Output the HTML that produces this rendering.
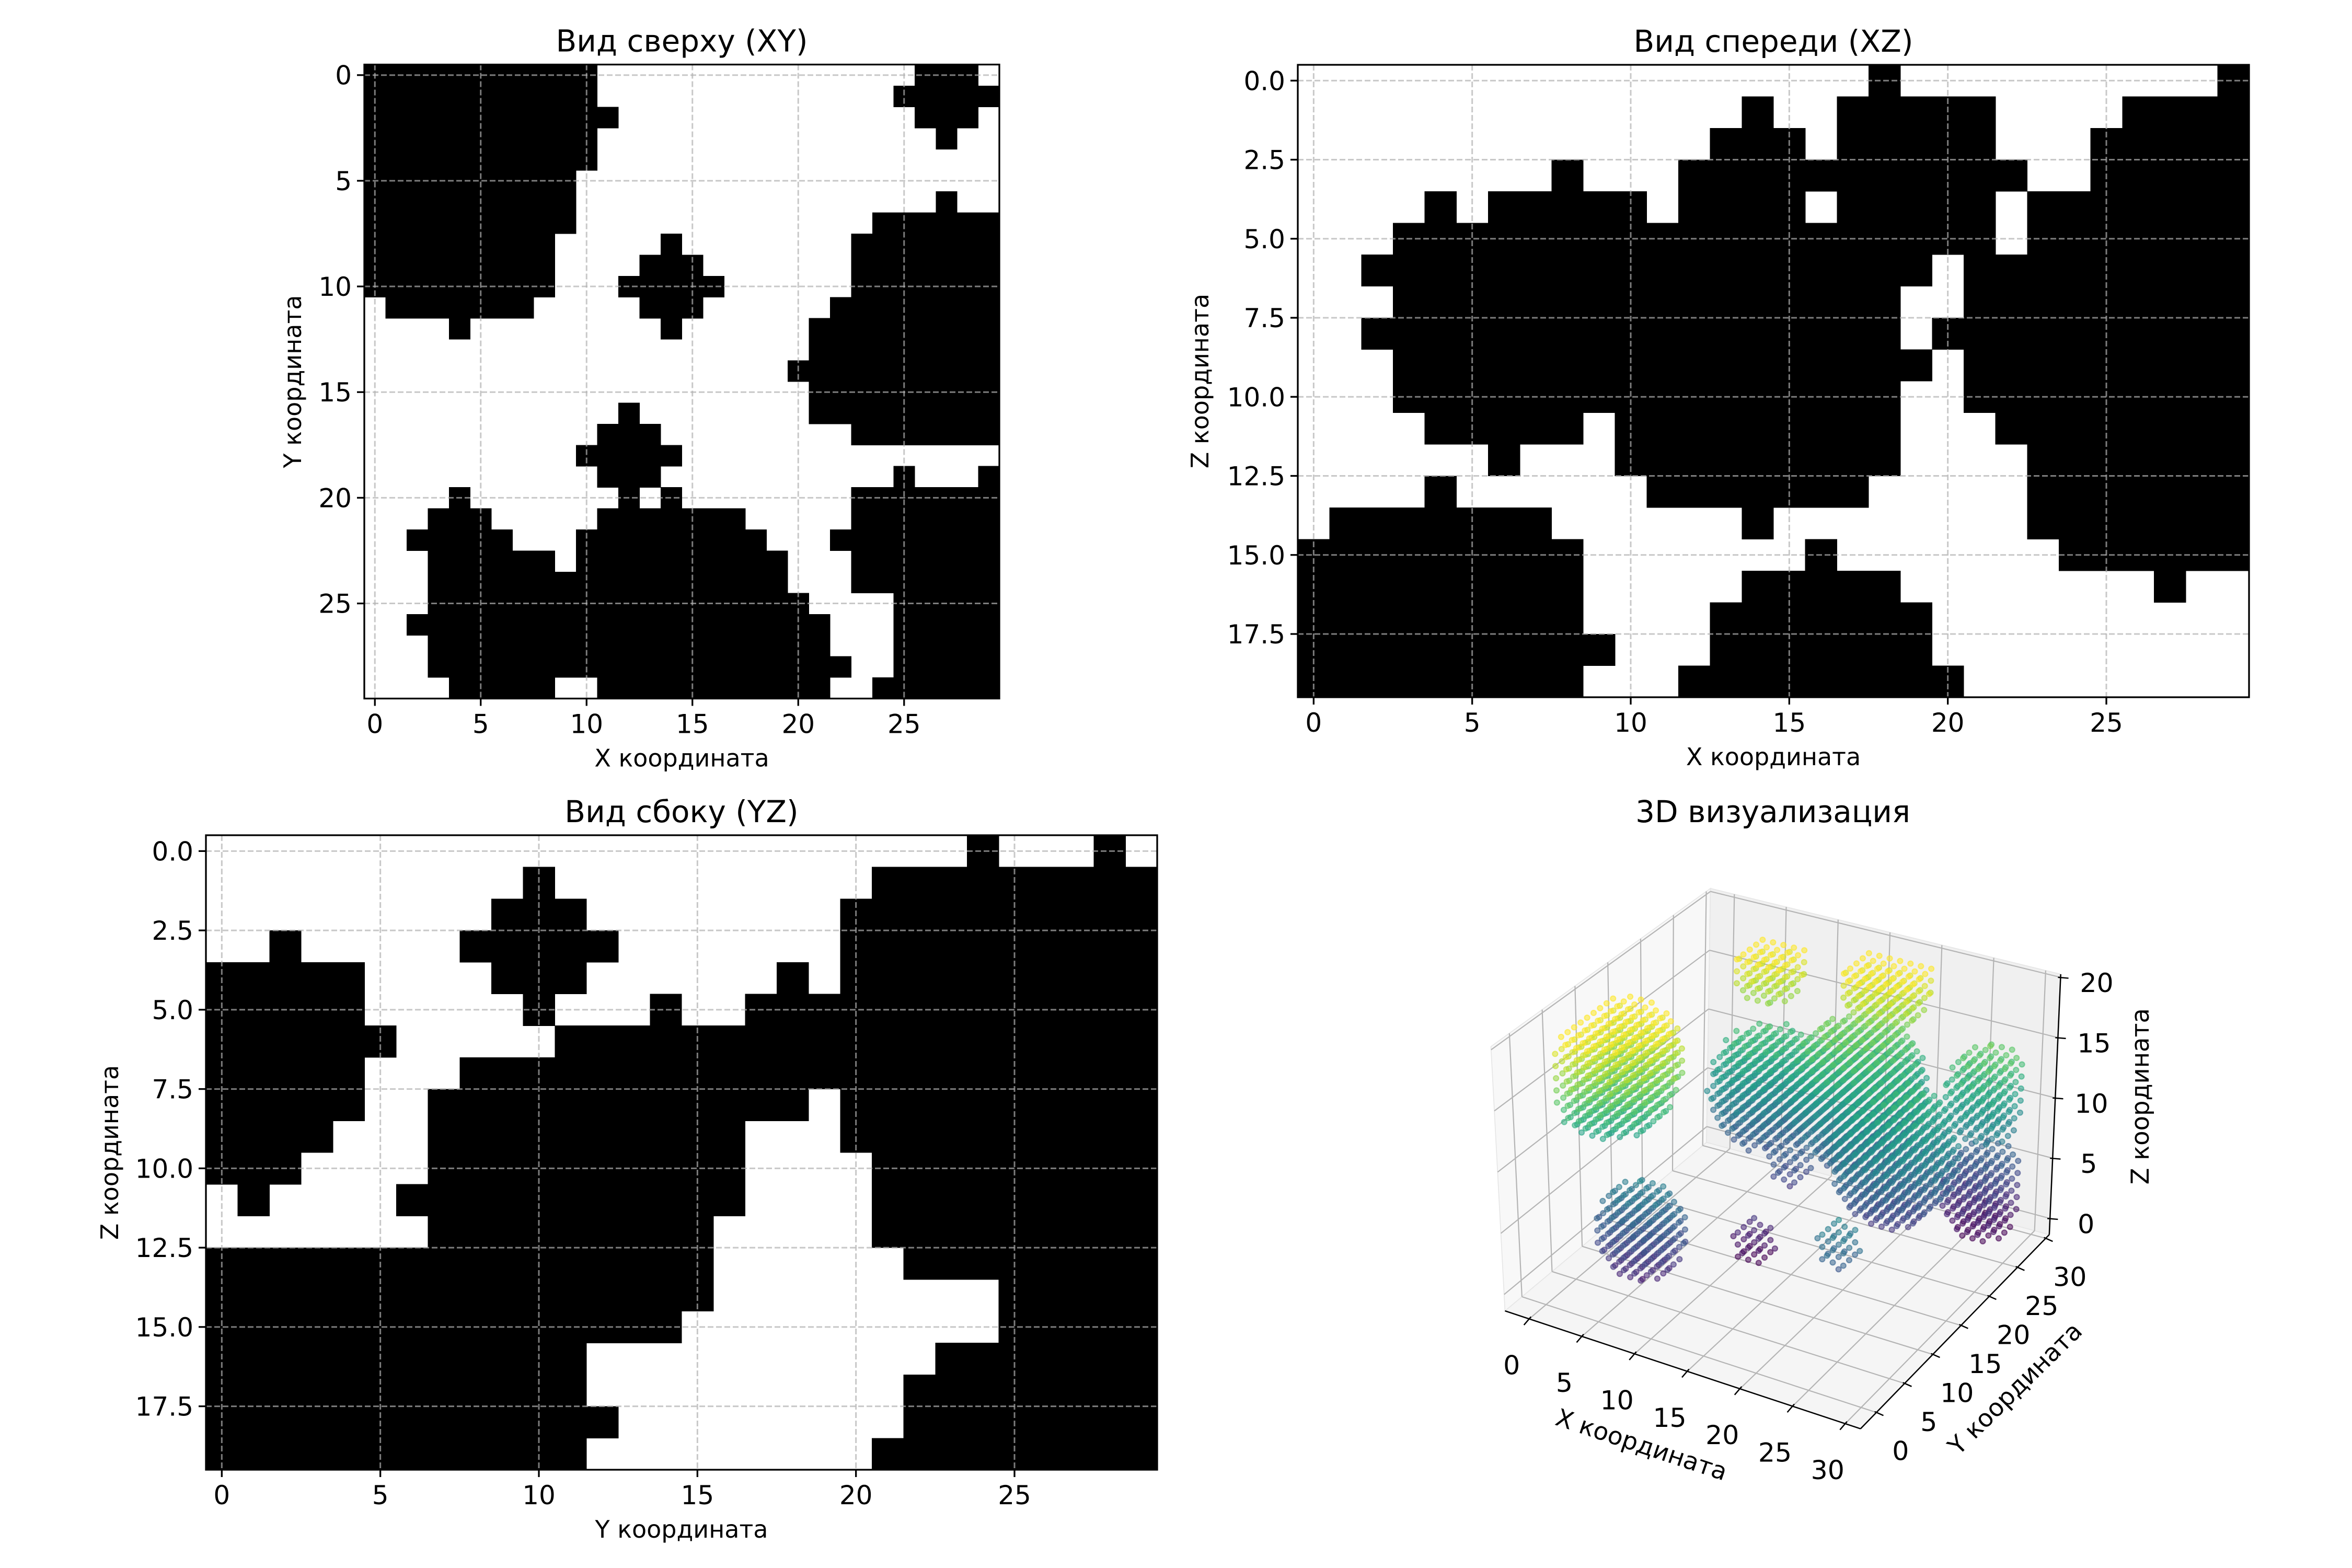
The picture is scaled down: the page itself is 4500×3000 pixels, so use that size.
<!DOCTYPE html>
<html><head><meta charset="utf-8">
<style>
html,body{margin:0;padding:0;background:#fff;}
svg{display:block;}
text{font-family:"DejaVu Sans","Liberation Sans","Noto Sans CJK SC",sans-serif;fill:#000;}
</style></head>
<body>
<svg id="root" xmlns="http://www.w3.org/2000/svg" width="4500" height="3000" viewBox="0 0 4500 3000">
<rect x="0" y="0" width="4500" height="3000" fill="#fff"/>
</svg>
<script>
// ---------- data: binary projections (runs of black cells per row) ----------
const XY_RUNS = ["0-10,26-28","0-10,25-29","0-11,26-28","0-10,27","0-10","0-9","0-9,27","0-9,24-29",
"0-8,14,23-29","0-8,13-15,23-29","0-8,12-16,23-29","1-7,13-15,22-29","4,14,21-29","21-29","20-29","21-29",
"12,21-29","11-13,23-29","10-14","11-13,25,29","4,12,14,23-29","3-5,11-17,23-29","2-6,10-18,22-29",
"3-8,10-19,23-29","3-19,23-29","3-20,25-29","2-21,25-29","3-21,25-29","3-22,25-29","4-8,11-21,24-29"];
const XZ_RUNS = ["18,29","14,17-21,26-29","13-15,17-21,25-29","8,12-22,25-29","4,6-10,12-15,17-21,23-29",
"3-21,23-29","2-19,21-29","3-18,21-29","2-18,20-29","3-19,21-29","3-18,21-29","4-8,10-18,22-29",
"6,10-18,23-29","4,11-17,23-29","1-7,14,23-29","0-8,16,24-29","0-8,14-18,27","0-8,13-19","0-9,13-19","0-8,12-20"];
const YZ_RUNS = ["24,28","10,21-29","9-11,20-29","2,8-12,20-29","0-4,9-11,18,20-29","0-4,10,14,17-29",
"0-5,11-29","0-4,8-29","0-4,7-18,20-29","0-3,7-16,20-29","0-2,7-16,21-29","1,6-16,21-29","7-15,21-29",
"0-15,22-29","0-15,25-29","0-14,25-29","0-11,23-29","0-11,22-29","0-12,22-29","0-11,21-29"];
const TICKS_30 = [0,5,10,15,20,25];
const TICKS_30_LABELS = ["0","5","10","15","20","25"];
const TICKS_20 = [0,2.5,5,7.5,10,12.5,15,17.5];
const TICKS_20_LABELS = ["0.0","2.5","5.0","7.5","10.0","12.5","15.0","17.5"];

// ---------- data: 3D blobs ----------
const BLOB_X = [2,7,17,8,16,22,27,27,12,7,12,24];
const BLOB_Y = [8,25,27,23,24,20,27,27,20,4,14,7];
const BLOB_Z = [16,18,18,9,10,8,3,11,5,5,1,7];
const BLOB_R = [6,3,4,5,6,5.5,4,4,2,4,2,2];
const AX3_TICKS = [0,5,10,15,20,25,30];
const AZ3_TICKS = [0,5,10,15,20];

const NS='http://www.w3.org/2000/svg';
const root=document.getElementById('root');
function mk(tag, attrs, parent){const e=document.createElementNS(NS,tag);for(const k in attrs)e.setAttribute(k,attrs[k]);parent.appendChild(e);return e;}
function txt(str, attrs, parent){const e=mk('text',attrs,parent);e.textContent=str;return e;}
function parseRuns(s){if(!s)return[];return s.split(',').map(seg=>{const p=seg.split('-').map(Number);return [p[0],p.length>1?p[1]:p[0]];});}

function panel(p){
  const g=mk('g',{},root);
  
  
  const cw=p.w/p.cols, ch=p.h/p.rows;
  const sx=v=>p.x+(v+0.5)*cw, sy=v=>p.y+(v+0.5)*ch;
  p.runs.forEach((s,r)=>{
    parseRuns(s).forEach(([a,b])=>{
      const c=mk('rect',{x:sx(a-0.5),y:sy(r-0.5),width:(b-a+1)*cw+0.6,height:ch+0.6,fill:'#000','shape-rendering':'crispEdges'},g);
      
      
    });
  });
  p.xt.forEach(v=>{
    const l=mk('line',{x1:sx(v),x2:sx(v),y1:p.y,y2:p.y+p.h,stroke:'#b0b0b0','stroke-opacity':0.7,'stroke-width':3,'stroke-dasharray':'11 5'},g);
    
    
  });
  p.yt.forEach(v=>{
    const l=mk('line',{y1:sy(v),y2:sy(v),x1:p.x,x2:p.x+p.w,stroke:'#b0b0b0','stroke-opacity':0.7,'stroke-width':3,'stroke-dasharray':'11 5'},g);
    
    
  });
  const sp=mk('rect',{x:p.x,y:p.y,width:p.w,height:p.h,fill:'none',stroke:'#000','stroke-width':3.3},g);
  
  
  p.xt.forEach((v,i)=>{
    const X=sx(v), B=p.y+p.h;
    const t=mk('line',{x1:X,x2:X,y1:B,y2:B+14,stroke:'#000','stroke-width':3.3},g);
    
    
    const lb=txt(p.xl[i],{x:X,y:B+66,'font-size':50,'text-anchor':'middle'},g);
    
    
  });
  p.yt.forEach((v,i)=>{
    const Y=sy(v);
    const t=mk('line',{x1:p.x-14,x2:p.x,y1:Y,y2:Y,stroke:'#000','stroke-width':3.3},g);
    
    
    const lb=txt(p.yl[i],{x:p.x-24,y:Y+18,'font-size':50,'text-anchor':'end'},g);
    
    
  });
  const ti=txt(p.title,{x:p.x+p.w/2,y:p.y-25,'font-size':58,'text-anchor':'middle'},g);
  
  
  const xl=txt(p.xlabel,{x:p.x+p.w/2,y:p.y+p.h+130,'font-size':46,'text-anchor':'middle'},g);
  
  
  const yx=p.x-p.ylOff;
  const yl=txt(p.ylabel,{x:yx,y:p.y+p.h/2,'font-size':46,'text-anchor':'middle','dominant-baseline':'central',transform:`rotate(-90 ${yx} ${p.y+p.h/2})`},g);
  
  
}

panel({name:'top-view-xy',x:697,y:123.5,w:1215,h:1213,cols:30,rows:30,runs:XY_RUNS,xt:TICKS_30,xl:TICKS_30_LABELS,yt:TICKS_30,yl:TICKS_30_LABELS,title:'Вид сверху (XY)',xlabel:'X координата',ylabel:'Y координата',ylOff:137});
panel({name:'front-view-xz',x:2483,y:124,w:1820,h:1210,cols:30,rows:20,runs:XZ_RUNS,xt:TICKS_30,xl:TICKS_30_LABELS,yt:TICKS_20,yl:TICKS_20_LABELS,title:'Вид спереди (XZ)',xlabel:'X координата',ylabel:'Z координата',ylOff:187});
panel({name:'side-view-yz',x:394,y:1598,w:1820,h:1214,cols:30,rows:20,runs:YZ_RUNS,xt:TICKS_30,xl:TICKS_30_LABELS,yt:TICKS_20,yl:TICKS_20_LABELS,title:'Вид сбоку (YZ)',xlabel:'Y координата',ylabel:'Z координата',ylOff:184});

// ---------- 3D panel ----------
const t3=txt('3D визуализация',{x:3392,y:1573,'font-size':58,'text-anchor':'middle'},root);


const s3=mk('svg',{x:2850,y:1650,width:1320,height:1300,viewBox:'0 0 1568 1568',preserveAspectRatio:'none',overflow:'visible'},root);


const LIM={x0:-2.3,x1:31.45,y0:-2.81,y1:30.64,z0:-1.34,z1:20.26};
const C={'000':[35,1035],'100':[843,1307],'110':[1272,859],'010':[493,646],'001':[3,425],'101':[845,682],'111':[1298,258],'011':[502,60]};
function P(x,y,z){
  const u=(x-LIM.x0)/(LIM.x1-LIM.x0), v=(y-LIM.y0)/(LIM.y1-LIM.y0), w=(z-LIM.z0)/(LIM.z1-LIM.z0);
  const L=(a,b,t)=>[a[0]+(b[0]-a[0])*t,a[1]+(b[1]-a[1])*t];
  const b0=L(L(C['000'],C['100'],u),L(C['010'],C['110'],u),v);
  const b1=L(L(C['001'],C['101'],u),L(C['011'],C['111'],u),v);
  return L(b0,b1,w);
}
function poly(pts,fill,name){const e=mk('polygon',{points:pts.map(p=>p.join(',')).join(' '),fill:fill,stroke:'#e6e6e6','stroke-width':2},s3);}
poly([P(LIM.x0,LIM.y0,LIM.z0),P(LIM.x1,LIM.y0,LIM.z0),P(LIM.x1,LIM.y1,LIM.z0),P(LIM.x0,LIM.y1,LIM.z0)],'#f5f5f5','floor-pane');
poly([P(LIM.x0,LIM.y0,LIM.z0),P(LIM.x0,LIM.y1,LIM.z0),P(LIM.x0,LIM.y1,LIM.z1),P(LIM.x0,LIM.y0,LIM.z1)],'#f8f8f8','left-pane');
poly([P(LIM.x0,LIM.y1,LIM.z0),P(LIM.x1,LIM.y1,LIM.z0),P(LIM.x1,LIM.y1,LIM.z1),P(LIM.x0,LIM.y1,LIM.z1)],'#f0f0f0','back-pane');
function gl(a,b,name){const e=mk('line',{x1:a[0],y1:a[1],x2:b[0],y2:b[1],stroke:'#b4b4b4','stroke-width':2.6},s3);}
AX3_TICKS.forEach(t=>{
  gl(P(t,LIM.y0,LIM.z0),P(t,LIM.y1,LIM.z0),'floor-grid-x');
  gl(P(t,LIM.y1,LIM.z0),P(t,LIM.y1,LIM.z1),'back-grid-x');
  gl(P(LIM.x0,t,LIM.z0),P(LIM.x1,t,LIM.z0),'floor-grid-y');
  gl(P(LIM.x0,t,LIM.z0),P(LIM.x0,t,LIM.z1),'left-grid-y');
});
AZ3_TICKS.forEach(t=>{
  gl(P(LIM.x0,LIM.y0,t),P(LIM.x0,LIM.y1,t),'left-grid-z');
  gl(P(LIM.x0,LIM.y1,t),P(LIM.x1,LIM.y1,t),'back-grid-z');
});
const VIR=['#440154','#482475','#414487','#355f8d','#2a788e','#21918c','#22a884','#44bf70','#7ad151','#bddf26','#fde725'];
function hex(h){return [1,3,5].map(i=>parseInt(h.substr(i,2),16));}
function viridis(t){t=Math.max(0,Math.min(1,t));const f=t*10,i=Math.min(9,Math.floor(f)),r=f-i;const a=hex(VIR[i]),b=hex(VIR[i+1]);return 'rgb('+a.map((v,k)=>Math.round(v+(b[k]-v)*r)).join(',')+')';}
const pts=[];const seen={};
for(let b=0;b<BLOB_X.length;b++){
  const r=BLOB_R[b], R=Math.ceil(r);
  for(let dx=-R;dx<=R;dx++)for(let dy=-R;dy<=R;dy++)for(let dz=-R;dz<=R;dz++){
    if(dx*dx+dy*dy+dz*dz>r*r)continue;
    const x=BLOB_X[b]+dx,y=BLOB_Y[b]+dy,z=BLOB_Z[b]+dz;
    if(x<0||x>29||y<0||y>29||z<0||z>19)continue;
    const k=x+','+y+','+z; if(seen[k])continue; seen[k]=1;
    pts.push([x,y,z]);
  }
}
pts.sort((a,b)=>(0.5*a[0]-0.866*a[1]+0.6*a[2])-(0.5*b[0]-0.866*b[1]+0.6*b[2]));
const pg=mk('g',{},s3);


pts.forEach(p=>{
  const s=P(p[0],p[1],p[2]);const c=viridis(p[2]/19);
  const e=mk('circle',{cx:s[0].toFixed(1),cy:s[1].toFixed(1),r:6,fill:c,'fill-opacity':0.55,stroke:c,'stroke-opacity':0.6,'stroke-width':2.5},pg);
  
  
});
function al(a,b,name){const e=mk('line',{x1:a[0],y1:a[1],x2:b[0],y2:b[1],stroke:'#000','stroke-width':3},s3);}
al(P(LIM.x0,LIM.y0,LIM.z0),P(LIM.x1,LIM.y0,LIM.z0),'x-axis-line');
al(P(LIM.x1,LIM.y0,LIM.z0),P(LIM.x1,LIM.y1,LIM.z0),'y-axis-line');
al(P(LIM.x1,LIM.y1,LIM.z0),P(LIM.x1,LIM.y1,LIM.z1),'z-axis-line');
AX3_TICKS.forEach(t=>{
  const a=P(t,LIM.y0,LIM.z0);
  al([a[0]+4,a[1]-5],[a[0]-12,a[1]+14],'x-tick');
  const l=txt(String(t),{x:a[0]-40,y:a[1]+128,'font-size':60,'text-anchor':'middle'},s3);
  
  
  const b=P(LIM.x1,t,LIM.z0);
  al([b[0]-4,b[1]-2],[b[0]+16,b[1]+7],'y-tick');
  const m=txt(String(t),{x:b[0]+55,y:b[1]+110,'font-size':60,'text-anchor':'middle'},s3);
  
  
});
AZ3_TICKS.forEach(t=>{
  const c=P(LIM.x1,LIM.y1,t);
  al([c[0]-6,c[1]],[c[0]+18,c[1]+2],'z-tick');
  const l=txt(String(t),{x:c[0]+82,y:c[1]+34,'font-size':60,'text-anchor':'middle'},s3);
  
  
});
const xa=txt('X координата',{x:345,y:1345,'font-size':56,'text-anchor':'middle','dominant-baseline':'central',transform:'rotate(18.6 345 1345)'},s3);


const ya=txt('Y координата',{x:1195,y:1215,'font-size':56,'text-anchor':'middle','dominant-baseline':'central',transform:'rotate(-45 1195 1215)'},s3);


const za=txt('Z координата',{x:1480,y:540,'font-size':56,'text-anchor':'middle','dominant-baseline':'central',transform:'rotate(-90 1480 540)'},s3);


</script>
</body></html>
